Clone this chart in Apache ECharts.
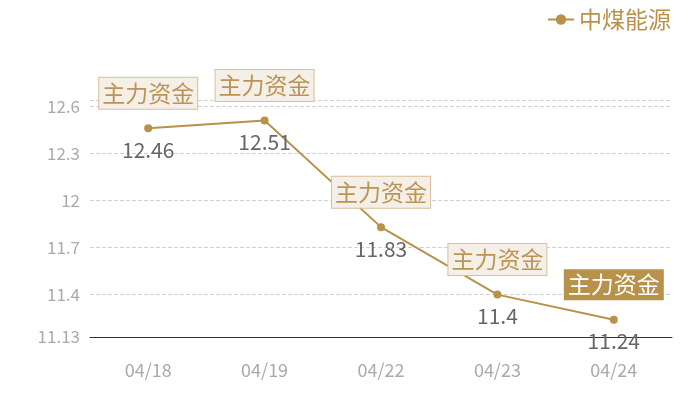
<!DOCTYPE html>
<html>
<head>
<meta charset="utf-8">
<script src="https://cdn.jsdelivr.net/npm/echarts@6/dist/echarts.min.js"></script>
<style>
  html, body { margin: 0; padding: 0; background: #fff; }
  #chart { width: 700px; height: 400px; }
</style>
</head>
<body>
<div id="chart"></div>
<script>
let dates = ['04/18', '04/19', '04/22', '04/23', '04/24'];
let prices = [12.46, 12.51, 11.83, 11.4, 11.24];
let yTicks = [11.13, 11.4, 11.7, 12, 12.3, 12.6];
let yMin = 11.13;
let yMax = 12.64;
let flagText = '主力资金';
let gold = '#b8914a';
let font = '"Noto Sans CJK SC", "Noto Sans", sans-serif';

let flags = dates.map(function (d, i) {
  let last = i === dates.length - 1;
  return {
    coord: [d, prices[i]],
    label: last
      ? { backgroundColor: gold, color: '#fff', borderWidth: 0, padding: [4, 4] }
      : {}
  };
});

let option = {
  textStyle: { fontFamily: font },
  legend: {
    top: 3,
    right: 24,
    itemWidth: 26,
    itemHeight: 13,
    itemGap: 6,
    textStyle: { color: gold, fontSize: 23, fontFamily: font },
    data: ['中煤能源']
  },
  grid: { left: 90, right: 28, top: 100, bottom: 63 },
  xAxis: {
    type: 'category',
    data: dates,
    axisLine: { lineStyle: { color: '#333' } },
    axisTick: { show: false },
    axisLabel: { color: '#aaa', fontSize: 18, margin: 24 }
  },
  yAxis: {
    type: 'value',
    min: yMin,
    max: yMax,
    axisLine: { show: false },
    axisTick: { show: false, customValues: yTicks.concat([yMax]) },
    axisLabel: { color: '#aaa', fontSize: 17, margin: 10, customValues: yTicks },
    splitLine: { lineStyle: { color: '#d2d2d2', type: [4, 2] } }
  },
  series: [{
    name: '中煤能源',
    type: 'line',
    data: prices,
    color: gold,
    symbol: 'circle',
    symbolSize: 8,
    lineStyle: { width: 2 },
    label: {
      show: true,
      position: 'bottom',
      distance: 7,
      color: '#666',
      fontSize: 21
    },
    markPoint: {
      symbol: 'rect',
      symbolSize: 1,
      itemStyle: { color: 'transparent' },
      label: {
        show: true,
        formatter: flagText,
        position: 'inside',
        offset: [0, -35],
        color: '#bb9455',
        fontSize: 23,
        backgroundColor: '#f4efe7',
        borderColor: '#d8c09a',
        borderWidth: 1,
        padding: [4, 3]
      },
      data: flags
    }
  }]
};

let chart = echarts.init(document.getElementById('chart'));
chart.setOption(option);
</script>
</body>
</html>
